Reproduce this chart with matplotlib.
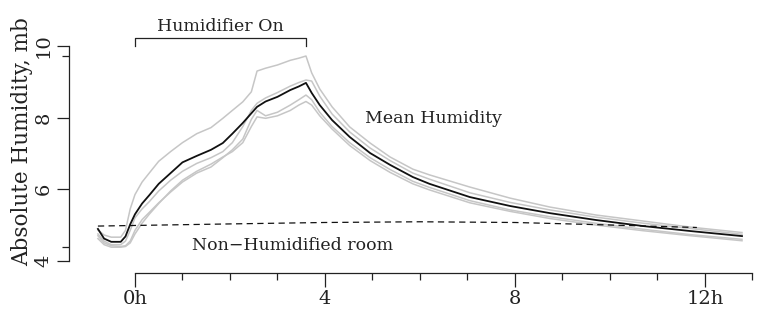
import matplotlib

matplotlib.use("Agg")

import matplotlib.pyplot as plt
import numpy as np

# hours relative to humidifier switch-on
hours = [-0.78, -0.65, -0.5, -0.3, -0.2, -0.1, 0.0, 0.15, 0.3, 0.5, 0.75, 1.0,
         1.3, 1.6, 1.85, 2.05, 2.27, 2.45, 2.57, 2.75, 3.0, 3.27, 3.45, 3.6,
         3.72, 3.89, 4.15, 4.52, 4.95, 5.37, 5.85, 6.2, 7.05, 7.9, 8.74, 9.7,
         10.7, 11.7, 12.78]

mean_humidity = [4.89, 4.62, 4.53, 4.53, 4.68, 5.02, 5.3, 5.6, 5.83, 6.15, 6.45, 6.75,
                 6.93, 7.1, 7.29, 7.55, 7.85, 8.12, 8.3, 8.45, 8.58, 8.77, 8.87, 8.97,
                 8.69, 8.35, 7.93, 7.46, 7.01, 6.68, 6.34, 6.15, 5.78, 5.53, 5.33, 5.14,
                 4.97, 4.83, 4.69]

room_a = [4.86, 4.72, 4.66, 4.66, 4.85, 5.45, 5.85, 6.2, 6.45, 6.78, 7.05, 7.3,
          7.55, 7.72, 7.98, 8.2, 8.44, 8.72, 9.3, 9.38, 9.47, 9.6, 9.66, 9.72,
          9.25, 8.8, 8.3, 7.74, 7.29, 6.9, 6.56, 6.4, 6.06, 5.75, 5.5, 5.28,
          5.11, 4.94, 4.79]

room_b = [4.75, 4.55, 4.45, 4.45, 4.55, 4.85, 5.2, 5.45, 5.65, 5.95, 6.25, 6.5,
          6.72, 6.88, 7.05, 7.3, 7.75, 8.2, 8.4, 8.55, 8.7, 8.88, 8.98, 9.05,
          9.02, 8.6, 8.1, 7.6, 7.15, 6.8, 6.45, 6.28, 5.9, 5.63, 5.42, 5.22,
          5.05, 4.9, 4.74]

room_c = [4.7, 4.5, 4.42, 4.4, 4.42, 4.55, 4.85, 5.15, 5.35, 5.62, 5.92, 6.2,
          6.45, 6.62, 6.88, 7.1, 7.4, 7.95, 8.2, 8.05, 8.15, 8.35, 8.5, 8.63,
          8.5, 8.15, 7.75, 7.3, 6.88, 6.55, 6.22, 6.05, 5.68, 5.42, 5.23, 5.05,
          4.88, 4.73, 4.6]

room_d = [4.62, 4.45, 4.38, 4.38, 4.4, 4.5, 4.75, 5.05, 5.3, 5.6, 5.95, 6.25,
          6.5, 6.7, 6.9, 7.05, 7.3, 7.75, 8.02, 7.98, 8.05, 8.2, 8.35, 8.45,
          8.35, 8.05, 7.68, 7.22, 6.8, 6.47, 6.15, 5.98, 5.62, 5.38, 5.18, 5.0,
          4.84, 4.7, 4.56]

baseline_hours = [-0.78, 2.0, 4.0, 6.0, 8.0, 10.0, 11.83]
baseline_humidity = [4.97, 5.03, 5.07, 5.09, 5.07, 5.0, 4.93]

x_major = [0, 4, 8, 12]
x_labels = ["0h", "4", "8", "12h"]
y_major = [4, 6, 8, 10]

plt.rcParams["font.family"] = ["DejaVu Serif"]
ink = "#222222"

fig = plt.figure(figsize=(7.61, 3.15), dpi=100)
ax = fig.add_axes([69 / 761, 42 / 315, 692 / 761, 273 / 315])
ax.set_xlim(-1.389, 13.18)
ax.set_ylim(3.659, 11.285)

for series in (room_a, room_b, room_c, room_d):
    ax.plot(hours, series, color="#c6c6c6", lw=1.1, zorder=2)
ax.plot(hours, mean_humidity, color="#111111", lw=1.3, zorder=3)
ax.plot(baseline_hours, baseline_humidity, color="#111111", lw=0.9,
        dashes=(5, 3.5), zorder=4)

# range frame
for side in ("top", "right"):
    ax.spines[side].set_visible(False)
ax.spines["bottom"].set_bounds(0, 13)
ax.spines["left"].set_bounds(4, 10)
for side in ("bottom", "left"):
    ax.spines[side].set_color(ink)
    ax.spines[side].set_linewidth(0.9)

all_values = np.concatenate([room_a, room_b, room_c, room_d, mean_humidity])
ax.set_xticks(x_major, x_labels)
ax.set_xticks(range(0, 14), minor=True)
ax.set_yticks(y_major, [str(v) for v in y_major])
ax.set_yticks([all_values.min(), all_values.max()], minor=True)
ax.tick_params(axis="x", which="major", length=10, width=0.9, color=ink,
               labelsize=14, pad=2, labelcolor=ink)
ax.tick_params(axis="x", which="minor", length=5, width=0.9, color=ink)
ax.tick_params(axis="y", which="major", length=9, width=0.9, color=ink,
               labelsize=14, pad=3, labelcolor=ink, labelrotation=90)
ax.tick_params(axis="y", which="minor", length=5, width=0.9, color=ink)
for label in ax.get_yticklabels():
    label.set_verticalalignment("center")

# humidifier bracket
ax.plot([0, 0, 3.6, 3.6], [10.0, 10.21, 10.21, 10.0], color=ink, lw=0.9,
        clip_on=False)
ax.text(1.8, 10.3, "Humidifier On", ha="center", va="bottom", fontsize=12.5,
        color=ink)
ax.text(4.84, 7.85, "Mean Humidity", ha="left", va="baseline", fontsize=12.5,
        color=ink)
ax.text(1.2, 4.3, "Non\u2212Humidified room", ha="left", va="baseline",
        fontsize=12.5, color=ink)

fig.text(22 / 761, 1 - 142 / 315, "Absolute Humidity, mb", rotation=90,
         ha="center", va="center", fontsize=15.5, color=ink)

fig.savefig("out.png", dpi=100)
